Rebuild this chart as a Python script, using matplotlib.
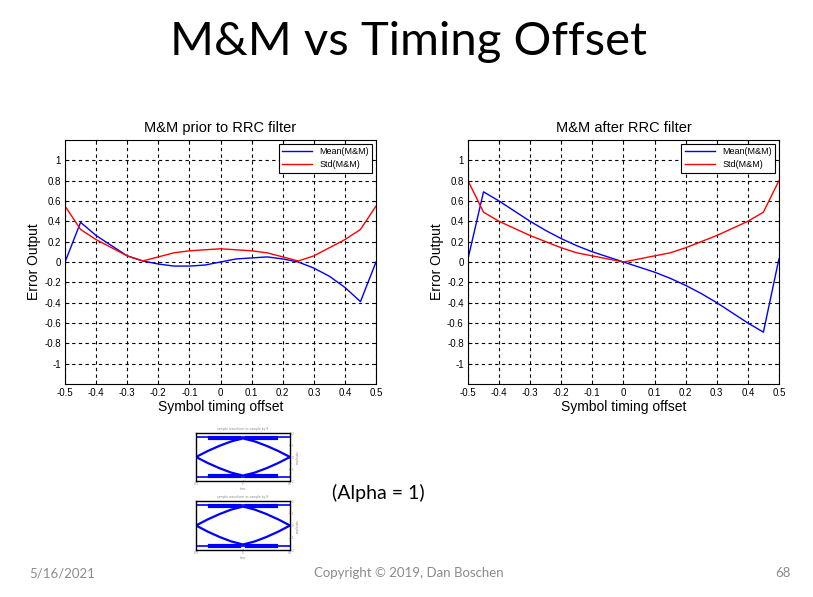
import matplotlib
matplotlib.use('Agg')
import matplotlib.pyplot as plt

# timing offsets (symbol fraction)
offset = [-0.5, -0.45, -0.4, -0.35, -0.3, -0.25, -0.2, -0.15, -0.1, -0.05, 0.0,
          0.05, 0.1, 0.15, 0.2, 0.25, 0.3, 0.35, 0.4, 0.45, 0.5]

# before RRC filter
mean_prior = [0.0, 0.39, 0.26, 0.16, 0.06, 0.01, -0.02, -0.04, -0.04, -0.03, 0.0,
              0.03, 0.04, 0.05, 0.03, 0.0, -0.06, -0.14, -0.25, -0.39, 0.0]
std_prior = [0.55, 0.32, 0.22, 0.14, 0.06, 0.01, 0.05, 0.09, 0.11, 0.12, 0.13,
             0.12, 0.11, 0.09, 0.05, 0.01, 0.06, 0.14, 0.22, 0.32, 0.55]

# after RRC filter
mean_after = [0.03, 0.69, 0.6, 0.5, 0.4, 0.31, 0.23, 0.16, 0.1, 0.05, 0.0,
              -0.05, -0.1, -0.16, -0.23, -0.31, -0.4, -0.5, -0.6, -0.69, 0.03]
std_after = [0.8, 0.49, 0.4, 0.33, 0.26, 0.2, 0.14, 0.09, 0.06, 0.03, 0.0,
             0.03, 0.06, 0.09, 0.14, 0.2, 0.26, 0.33, 0.4, 0.49, 0.8]

yticks = [-1, -0.8, -0.6, -0.4, -0.2, 0, 0.2, 0.4, 0.6, 0.8, 1]
ytick_labels = ['-1', '-0.8', '-0.6', '-0.4', '-0.2', '0', '0.2', '0.4', '0.6', '0.8', '1']
xticks = [-0.5, -0.4, -0.3, -0.2, -0.1, 0, 0.1, 0.2, 0.3, 0.4, 0.5]
xtick_labels = ['-0.5', '-0.4', '-0.3', '-0.2', '-0.1', '0', '0.1', '0.2', '0.3', '0.4', '0.5']

# eye diagram thumbnails (rough traces)
eye_t = [-1, -0.75, -0.5, -0.25, 0, 0.25, 0.5, 0.75, 1]
eye_up = [0, 0.3, 0.56, 0.78, 0.93, 0.78, 0.56, 0.3, 0]
eye_top = [1, 1, 1, 1, 1, 1, 1, 1, 1]
band_t_left = [-0.7, -0.08]
band_t_right = [0.08, 0.7]
band_level = [0.96, 0.96]

fig = plt.figure(figsize=(8.13, 5.97), dpi=100)
fig.patch.set_facecolor('white')

slide_font = ['Lato', 'DejaVu Sans']
plot_font = ['Liberation Sans', 'DejaVu Sans']

fig.text(0.503, 0.930, 'M&M vs Timing Offset', ha='center', va='center',
         fontsize=34, family=slide_font, color='black')


def mm_axes(rect, title, mean, std):
    ax = fig.add_axes(rect)
    ax.plot(offset, mean, color='#0000ff', lw=1.0, label='Mean(M&M)')
    ax.plot(offset, std, color='#ff0000', lw=1.0, label='Std(M&M)')
    ax.set_xlim(-0.5, 0.5)
    ax.set_ylim(-1.2, 1.2)
    ax.set_xticks(xticks)
    ax.set_xticklabels(xtick_labels, family=plot_font, fontsize=7)
    ax.set_yticks(yticks)
    ax.set_yticklabels(ytick_labels, family=plot_font, fontsize=7)
    ax.tick_params(direction='in', length=3, width=0.6, top=True, right=True, pad=3)
    ax.grid(True, color='black', linestyle=(0, (3, 3)), linewidth=0.8)
    for s in ax.spines.values():
        s.set_linewidth(0.8)
    ax.set_title(title, family=plot_font, fontsize=10.5, pad=6)
    ax.set_xlabel('Symbol timing offset', family=plot_font, fontsize=10, labelpad=1)
    ax.set_ylabel('Error Output', family=plot_font, fontsize=10, labelpad=2)
    leg = ax.legend(loc='upper right', prop={'family': plot_font, 'size': 6.5},
                    fancybox=False, edgecolor='black', framealpha=1,
                    handlelength=3.3, borderaxespad=0.4, borderpad=0.4,
                    labelspacing=0.45)
    leg.get_frame().set_linewidth(0.8)
    return ax


mm_axes([0.080, 0.3568, 0.3825, 0.4087], 'M&M prior to RRC filter', mean_prior, std_prior)
mm_axes([0.5756, 0.3568, 0.3825, 0.4087], 'M&M after RRC filter', mean_after, std_after)


def eye_axes(rect, title, bot_level):
    ax = fig.add_axes(rect)
    neg = [-v for v in eye_up]
    ax.plot(eye_t, eye_up, color='#0000ff', lw=1.6)
    ax.plot(eye_t, neg, color='#0000ff', lw=1.6)
    ax.plot(eye_t, eye_top, color='#0000ff', lw=1.2)
    ax.plot(eye_t, [-v for v in eye_top], color='#0000ff', lw=1.2)
    for bt in (band_t_left, band_t_right):
        ax.plot(bt, band_level, color='#0000ff', lw=3)
        ax.plot(bt, [bot_level, bot_level], color='#0000ff', lw=3)
    ax.set_xlim(-1, 1)
    ax.set_ylim(-1.2, 1.2)
    ax.set_xticks([-1, 0, 1])
    ax.set_xticklabels(['-0.5', '0', '0.5'], fontsize=2, color='#888888')
    ax.yaxis.tick_right()
    ax.set_yticks([-1.2, -0.6, 0, 0.6, 1.2])
    ax.set_yticklabels(['-2', '-1', '0', '1', '2'], fontsize=2, color='#888888')
    ax.tick_params(direction='in', length=1, width=0.4, pad=1)
    ax.set_title(title, fontsize=2.2, color='#888888', pad=2)
    ax.set_xlabel('time', fontsize=2, color='#888888', labelpad=0.5)
    ax.yaxis.set_label_position('right')
    ax.set_ylabel('amplitude', fontsize=2, color='#888888', labelpad=1)
    for s in ax.spines.values():
        s.set_linewidth(1.0)
    return ax


eye_axes([0.2411, 0.1943, 0.1156, 0.0804], 'sample waveform vs sample by 8', -0.96)
eye_axes([0.2411, 0.0787, 0.1156, 0.0821], 'sample waveform vs sample by 8', -1.0)

fig.text(0.408, 0.175, '(Alpha = 1)', ha='left', va='center', fontsize=14,
         family=slide_font, color='black')

foot_color = '#8b8b8b'
fig.text(0.036, 0.040, '5/16/2021', ha='left', va='center', fontsize=9.5,
         family=slide_font, color=foot_color)
fig.text(0.503, 0.040, 'Copyright \u00a9 2019, Dan Boschen', ha='center', va='center',
         fontsize=9.5, family=slide_font, color=foot_color)
fig.text(0.972, 0.040, '68', ha='right', va='center', fontsize=9.5,
         family=slide_font, color=foot_color)

fig.savefig('out.png', dpi=100)
